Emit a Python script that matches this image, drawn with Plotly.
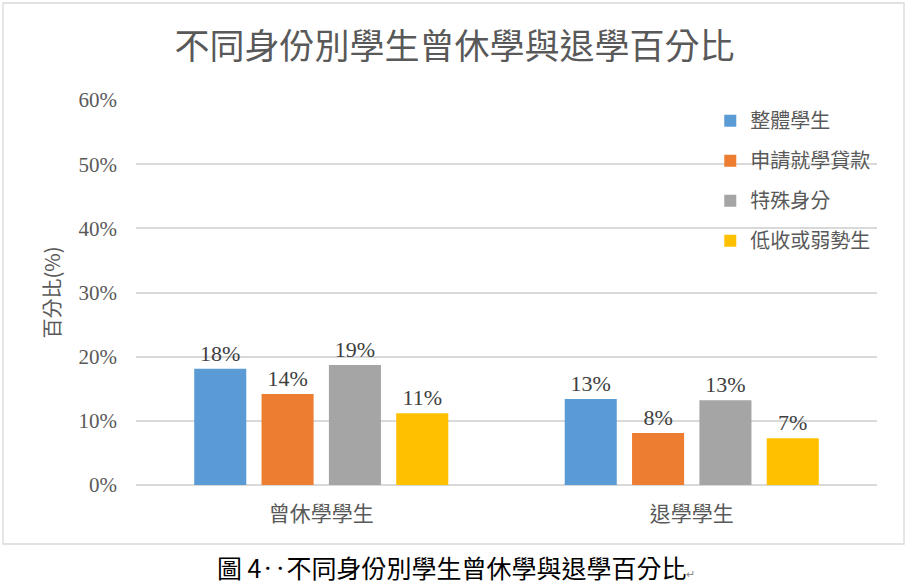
import plotly.graph_objects as go

categories = ["曾休學學生", "退學學生"]
series_names = ["整體學生", "申請就學貸款", "特殊身分", "低收或弱勢生"]
values_overall = [18.1, 13.4]
values_loan = [14.2, 8.1]
values_special = [18.7, 13.2]
values_low = [11.2, 7.3]
label_overall = ["18%", "13%"]
label_loan = ["14%", "8%"]
label_special = ["19%", "13%"]
label_low = ["11%", "7%"]
colors = ["#5B9BD5", "#ED7D31", "#A5A5A5", "#FFC000"]
y_ticks = [0, 10, 20, 30, 40, 50, 60]
y_tick_labels = ["0%", "10%", "20%", "30%", "40%", "50%", "60%"]

SERIF = "Liberation Serif, Noto Sans CJK TC"
CJK = "Noto Sans CJK TC, Liberation Serif"

fig = go.Figure()
for name, vals, labs, col in zip(series_names,
                                 [values_overall, values_loan, values_special, values_low],
                                 [label_overall, label_loan, label_special, label_low],
                                 colors):
    fig.add_trace(go.Bar(
        name=name, legendgroup=name, x=categories, y=vals,
        marker_color=col, marker_line_width=0,
        text=labs, textposition="outside", cliponaxis=False, constraintext="none",
        textfont=dict(family=SERIF, size=22, color="#404040"),
    ))

fig.update_layout(
    width=909, height=587,
    margin=dict(l=136, r=32, t=100, b=102),
    paper_bgcolor="white", plot_bgcolor="white",
    barmode="group", bargap=0.273, bargroupgap=0.227,
    title=dict(text="不同身份別學生曾休學與退學百分比", x=0.5, xanchor="center",
               y=1 - 47 / 587, yref="container", yanchor="middle",
               font=dict(family=CJK, size=35, color="#595959")),
    legend=dict(x=0.775, y=0.997, xanchor="left", yanchor="top",
                bgcolor="rgba(0,0,0,0)", font=dict(family=CJK, size=20, color="#595959"),
                tracegroupgap=11, itemwidth=30),
    showlegend=True,
    xaxis=dict(showgrid=False, showline=False, ticks="", ticklabelstandoff=14,
               tickfont=dict(family=CJK, size=21, color="#595959")),
    yaxis=dict(range=[0, 60], tickvals=y_ticks, ticktext=y_tick_labels,
               showgrid=True, gridcolor="#D9D9D9", gridwidth=1.5,
               zeroline=True, zerolinecolor="#D9D9D9", zerolinewidth=1.5,
               showline=False, ticks="", ticklen=0, ticklabelstandoff=18,
               tickfont=dict(family=SERIF, size=21, color="#595959"),
               title=dict(text="百分比(%)", standoff=12,
                          font=dict(family=CJK, size=20, color="#595959"))),
    shapes=[dict(type="rect", xref="paper", yref="paper",
                 x0=(3 - 136) / 741, x1=(904 - 136) / 741,
                 y0=(485 - 544) / 385, y1=(485 - 3) / 385,
                 line=dict(color="#D9D9D9", width=1.3), fillcolor="rgba(0,0,0,0)",
                 layer="below")],
    annotations=[dict(text="圖 4‥不同身份別學生曾休學與退學百分比<span style='font-size:11px;color:#888'>↵</span>",
                      xref="paper", yref="paper", x=(456 - 136) / 741, y=(485 - 567) / 385,
                      xanchor="center", yanchor="middle", showarrow=False,
                      font=dict(family=CJK, size=25, color="#000000"))],
)

fig.write_html("out.html")
